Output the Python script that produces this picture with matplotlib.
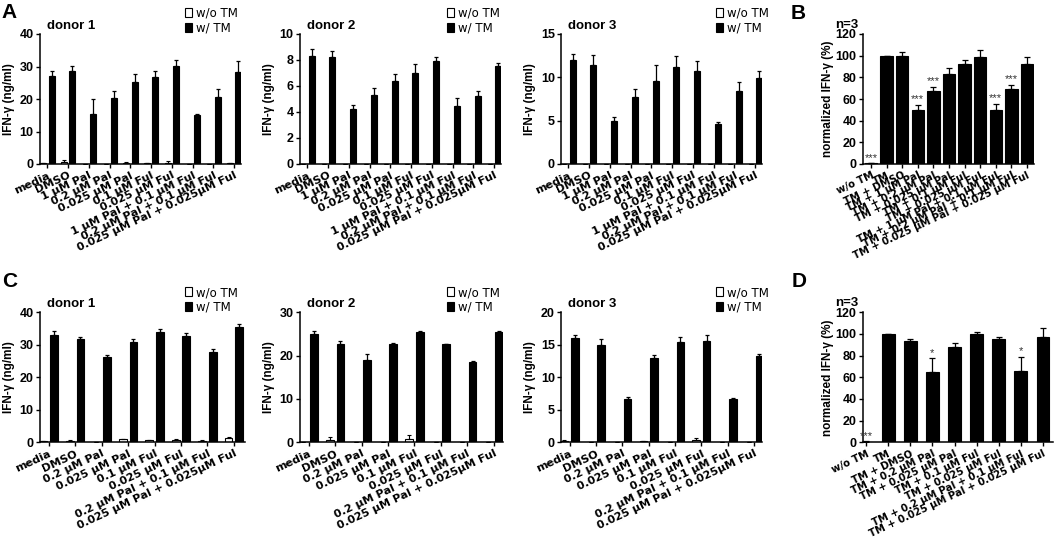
import matplotlib
matplotlib.use("Agg")
import matplotlib.pyplot as plt
import numpy as np
from matplotlib.patches import Patch

plt.rcParams['font.family'] = ['Liberation Sans', 'DejaVu Sans']
plt.rcParams['font.weight'] = 'bold'
plt.rcParams['axes.labelweight'] = 'bold'

W, H = 1059, 544

# ---- panel A (10 conditions, 3 donors) ----
labels_a = ['media', 'DMSO', '1 µM Pal', '0.2 µM Pal', '0.025 µM Pal', '0.1 µM Ful',
            '0.025 µM Ful', '1 µM Pal + 0.1 µM Ful', '0.2 µM Pal + 0.1 µM Ful',
            '0.025 µM Pal + 0.025µM Ful']
a1_wo = [0.3, 0.5, 0.1, 0.1, 0.4, 0.3, 0.4, 0.1, 0.1, 0.3]
a1_wo_err = [0.1, 0.6, 0.0, 0.0, 0.2, 0.1, 0.5, 0.0, 0.0, 0.1]
a1_w = [27.2, 28.7, 15.5, 20.4, 25.2, 26.7, 30.3, 15.2, 20.5, 28.3]
a1_w_err = [1.5, 1.4, 4.4, 2.0, 2.6, 1.9, 1.7, 0.2, 2.5, 3.3]

a2_wo = [0.0] * 10
a2_wo_err = [0.0] * 10
a2_w = [8.3, 8.25, 4.2, 5.3, 6.4, 6.98, 7.93, 4.49, 5.24, 7.54]
a2_w_err = [0.52, 0.46, 0.36, 0.52, 0.52, 0.69, 0.29, 0.6, 0.36, 0.21]

a3_wo = [0.0] * 10
a3_wo_err = [0.0] * 10
a3_w = [11.98, 11.44, 4.97, 7.69, 9.6, 11.25, 10.68, 4.63, 8.38, 9.91]
a3_w_err = [0.72, 1.11, 0.5, 0.96, 1.84, 1.19, 1.26, 0.27, 1.03, 0.77]

# ---- panel B (normalized, n=3) ----
labels_b = ['w/o TM', 'TM', 'TM + DMSO', 'TM + 1 µM Pal', 'TM + 0.2 µM Pal',
            'TM + 0.025 µM Pal', 'TM + 0.1 µM Ful', 'TM + 0.025 µM Ful',
            'TM + 1 µM Pal + 0.1 µM Ful', 'TM + 0.2 µM Pal + 0.1 µM Ful',
            'TM + 0.025 µM Pal + 0.025 µM Ful']
b_val = [0.5, 100, 100, 50.2, 67.7, 83.4, 92.3, 98.8, 49.5, 69.5, 92.3]
b_err = [0.3, 0, 3.4, 4.6, 3.3, 5.2, 4.0, 6.7, 5.9, 3.4, 6.5]
b_stars = ['***', '', '', '***', '***', '', '', '', '***', '***', '']

# ---- panel C (8 conditions, 3 donors) ----
labels_c = ['media', 'DMSO', '0.2 µM Pal', '0.025 µM Pal', '0.1 µM Ful', '0.025 µM Ful',
            '0.2 µM Pal + 0.1 µM Ful', '0.025 µM Pal + 0.025µM Ful']
c1_wo = [0.3, 0.4, 0.1, 0.9, 0.6, 0.6, 0.5, 1.2]
c1_wo_err = [0.1, 0.3, 0.0, 0.15, 0.2, 0.3, 0.1, 0.3]
c1_w = [32.9, 31.8, 26.2, 30.8, 33.9, 32.7, 27.9, 35.6]
c1_w_err = [1.4, 0.7, 0.7, 0.9, 0.9, 0.8, 0.7, 0.9]

c2_wo = [0.0, 0.6, 0.0, 0.0, 0.8, 0.1, 0.05, 0.0]
c2_wo_err = [0.0, 0.6, 0.0, 0.0, 0.8, 0.0, 0.0, 0.0]
c2_w = [25.1, 22.8, 19.0, 22.7, 25.4, 22.6, 18.5, 25.4]
c2_w_err = [0.7, 0.5, 1.4, 0.3, 0.3, 0.15, 0.3, 0.3]

c3_wo = [0.25, 0.1, 0.05, 0.2, 0.05, 0.3, 0.0, 0.05]
c3_wo_err = [0.05, 0.0, 0.0, 0.05, 0.0, 0.3, 0.0, 0.0]
c3_w = [16.1, 15.04, 6.65, 12.94, 15.4, 15.55, 6.7, 13.35]
c3_w_err = [0.4, 0.86, 0.25, 0.5, 0.8, 1.0, 0.05, 0.25]

# ---- panel D (normalized, n=3) ----
labels_d = ['w/o TM', 'TM', 'TM + DMSO', 'TM + 0.2 µM Pal', 'TM + 0.025 µM Pal',
            'TM + 0.1 µM Ful', 'TM + 0.025 µM Ful', 'TM + 0.2 µM Pal + 0.1 µM Ful',
            'TM + 0.025 µM Pal + 0.025 µM Ful']
d_val = [0.5, 99.7, 93.5, 65.2, 87.7, 99.7, 95.0, 66.2, 97.5]
d_err = [0.3, 0, 1.8, 12.3, 4.3, 2.5, 2.5, 12.8, 7.7]
d_stars = ['***', '', '', '*', '', '', '', '*', '']


fig = plt.figure(figsize=(W / 100, H / 100), dpi=100)


def add_ax(x0, y_top, x1, y_bot):
    return fig.add_axes([x0 / W, 1 - y_bot / H, (x1 - x0) / W, (y_bot - y_top) / H])


def style(ax, labels, ymax, ystep, ylabel, lab_off, xfs):
    for s in ['top', 'right']:
        ax.spines[s].set_visible(False)
    for s in ['left', 'bottom']:
        ax.spines[s].set_linewidth(1.1)
    ax.set_ylim(0, ymax)
    ax.set_yticks(np.arange(0, ymax + 0.01, ystep))
    ax.set_xticks(np.arange(len(labels)))
    ax.set_xticklabels(labels, rotation=25, ha='right', rotation_mode='anchor',
                       fontsize=xfs, family='DejaVu Sans')
    ax.tick_params(axis='both', direction='out', length=3, width=1.0, pad=1.5)
    ax.tick_params(axis='y', labelsize=9)
    ax.set_ylabel(ylabel, fontsize=8.5, fontweight='bold')
    bb = ax.get_position()
    ax.yaxis.set_label_coords(-lab_off / (bb.width * W), 0.5)


def donor_panel(ax, labels, wo, wo_err, w, w_err, ymax, ystep, title):
    x = np.arange(len(labels))
    n = len(labels)
    ax.bar(x - 0.2, wo, 0.29, color='white', edgecolor='black', linewidth=0.8, zorder=2)
    ax.bar(x + 0.2, w, 0.29, color='black', edgecolor='black', linewidth=0.8, zorder=2)
    ax.errorbar(x - 0.2, wo, yerr=[np.zeros(n), wo_err], fmt='none', ecolor='black',
                elinewidth=0.8, capsize=1.5, capthick=0.8, zorder=3)
    ax.errorbar(x + 0.2, w, yerr=[np.zeros(n), w_err], fmt='none', ecolor='black',
                elinewidth=0.9, capsize=1.5, capthick=0.9, zorder=3)
    style(ax, labels, ymax, ystep, 'IFN-γ (ng/ml)', 25, 8)
    bb = ax.get_position()
    ax.text(7 / (bb.width * W), 1 + 8 / (bb.height * H), title, transform=ax.transAxes,
            fontsize=9.5, va='center', ha='left')


def norm_panel(ax, labels, val, err, stars, width):
    x = np.arange(len(labels))
    ax.bar(x, val, width, color='black', edgecolor='black', linewidth=0.8, zorder=2)
    ax.errorbar(x, val, yerr=[np.zeros(len(x)), err], fmt='none', ecolor='black',
                elinewidth=0.9, capsize=2, capthick=0.9, zorder=3)
    for xi, v, e, s in zip(x, val, err, stars):
        if s:
            ax.text(xi, v + e + 0.5, s, ha='center', va='bottom', fontsize=8,
                    color='#333333', fontweight='normal')
    style(ax, labels, 120, 20, 'normalized IFN-γ (%)', 29, 7.2)
    bb = ax.get_position()
    ax.text(-28 / (bb.width * W), 1 + 9 / (bb.height * H), 'n=3', transform=ax.transAxes,
            fontsize=9.5, va='center', ha='left')


def legend_at(x, y):
    handles = [Patch(facecolor='white', edgecolor='black', linewidth=0.8),
               Patch(facecolor='black', edgecolor='black', linewidth=0.8)]
    fig.legend(handles, ['w/o TM', 'w/ TM'], loc='upper left',
               bbox_to_anchor=(x / W, 1 - y / H), bbox_transform=fig.transFigure,
               frameon=False, borderpad=0, borderaxespad=0, handlelength=0.6,
               handleheight=0.8, handletextpad=0.35, labelspacing=0.15,
               prop={'size': 8.5, 'weight': 'normal', 'family': 'DejaVu Sans'})


# row 1
ax = add_ax(40, 34, 241, 164)
ax.set_xlim(-0.36, 9.33)
donor_panel(ax, labels_a, a1_wo, a1_wo_err, a1_w, a1_w_err, 40, 10, 'donor 1')
ax = add_ax(300, 34, 501, 164)
ax.set_xlim(-0.36, 9.33)
donor_panel(ax, labels_a, a2_wo, a2_wo_err, a2_w, a2_w_err, 10, 2, 'donor 2')
ax = add_ax(561, 34, 762, 164)
ax.set_xlim(-0.36, 9.33)
donor_panel(ax, labels_a, a3_wo, a3_wo_err, a3_w, a3_w_err, 15, 5, 'donor 3')
ax = add_ax(862.7, 34, 1034, 164)
ax.set_xlim(-0.53, 10.45)
norm_panel(ax, labels_b, b_val, b_err, b_stars, 0.8)

# row 2
ax = add_ax(40, 312.3, 245, 442.3)
ax.set_xlim(-0.33, 7.42)
donor_panel(ax, labels_c, c1_wo, c1_wo_err, c1_w, c1_w_err, 40, 10, 'donor 1')
ax = add_ax(300, 312.3, 503, 442.3)
ax.set_xlim(-0.33, 7.35)
donor_panel(ax, labels_c, c2_wo, c2_wo_err, c2_w, c2_w_err, 30, 10, 'donor 2')
ax = add_ax(561, 312.3, 762, 442.3)
ax.set_xlim(-0.33, 7.3)
donor_panel(ax, labels_c, c3_wo, c3_wo_err, c3_w, c3_w_err, 20, 5, 'donor 3')
ax = add_ax(862.7, 312.3, 1053, 442.3)
ax.set_xlim(-0.15, 8.45)
norm_panel(ax, labels_d, d_val, d_err, d_stars, 0.58)

for lx in [185, 447, 716]:
    legend_at(lx, 7)
    legend_at(lx, 286)

for letter, lx, ly in [('A', 1, 3), ('B', 791, 4), ('C', 2, 272), ('D', 792, 272)]:
    fig.text(lx / W, 1 - ly / H, letter, fontsize=15, fontweight='bold', va='top', ha='left')

fig.savefig('out.png', dpi=100)
